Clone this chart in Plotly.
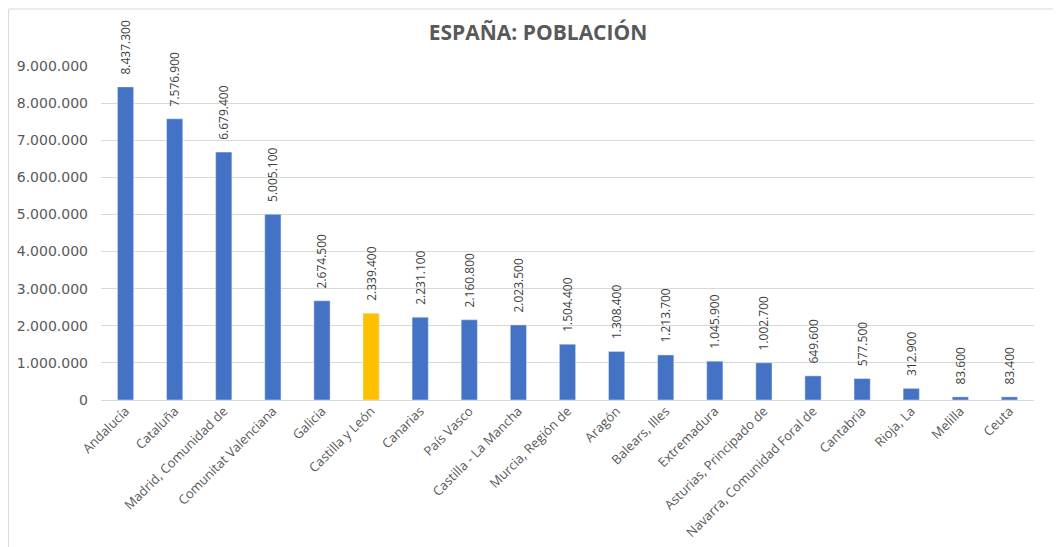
import plotly.graph_objects as go

regions = ["Andalucía", "Cataluña", "Madrid, Comunidad de", "Comunitat Valenciana",
           "Galicia", "Castilla y León", "Canarias", "País Vasco", "Castilla - La Mancha",
           "Murcia, Región de", "Aragón", "Balears, Illes", "Extremadura",
           "Asturias, Principado de", "Navarra, Comunidad Foral de", "Cantabria",
           "Rioja, La", "Melilla", "Ceuta"]
population = [8437300, 7576900, 6679400, 5005100, 2674500, 2339400, 2231100, 2160800,
              2023500, 1504400, 1308400, 1213700, 1045900, 1002700, 649600, 577500,
              312900, 83600, 83400]
highlight = "Castilla y León"
y_ticks = [0, 1000000, 2000000, 3000000, 4000000, 5000000, 6000000, 7000000, 8000000, 9000000]

BLUE = "#4472C4"
GOLD = "#FFC000"
colors = [GOLD if r == highlight else BLUE for r in regions]
labels = ["\u00a0\u00a0\u00a0" + f"{v:,}".replace(",", ".") for v in population]

fig = go.Figure(go.Bar(
    x=regions, y=population, marker_color=colors, width=0.33,
    text=labels, textposition="outside", textangle=-90,
    textfont=dict(family="Open Sans", size=12, color="#404040"),
    cliponaxis=False, constraintext="none", hoverinfo="x+y",
))

OFF = 8  # page body margin
L, R, T, B = 101 - OFF, 27, 66 - OFF, 147
W, H = 1061 - OFF, 547 - OFF
pw, ph = W - L - R, H - T - B

fig.update_layout(
    width=W, height=H,
    margin=dict(l=L, r=R, t=T, b=B, autoexpand=False),
    paper_bgcolor="white", plot_bgcolor="white",
    separators=",.",
    showlegend=False,
    title=dict(text="<b>ESPAÑA: POBLACIÓN</b>", x=(538 - OFF) / W, xanchor="center",
               xref="container", y=1 - (33 - OFF) / H, yanchor="middle", yref="container",
               font=dict(family="Open Sans", size=21, color="#595959")),
    xaxis=dict(tickangle=-45, tickfont=dict(family="Open Sans", size=13, color="#595959"),
               showgrid=False, showline=False, ticks="", automargin=False),
    yaxis=dict(range=[0, 9000000], tickvals=y_ticks, tickformat=",d",
               tickfont=dict(family="DejaVu Sans", size=14, color="#595959"),
               gridcolor="#d9d9d9", gridwidth=1, zeroline=True, zerolinecolor="#d9d9d9",
               zerolinewidth=1, showline=False, ticks="", ticklabelstandoff=12,
               automargin=False),
    shapes=[dict(type="rect", xref="paper", yref="paper",
                 x0=(8 - OFF - L) / pw + 0.0005, x1=(W + 20 - L) / pw,
                 y0=-(B + 20) / ph, y1=(H - B - (9 - OFF)) / ph,
                 line=dict(color="#d9d9d9", width=1), fillcolor="rgba(0,0,0,0)", layer="below")],
)

fig.write_html("out.html")
